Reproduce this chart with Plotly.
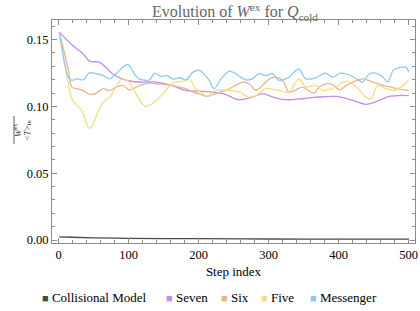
import plotly.graph_objects as go

# ---- data ----
coll_x = [1, 20, 50, 100, 150, 200, 300, 400, 500]
coll_y = [0.0024, 0.0021, 0.0017, 0.0013, 0.0011, 0.0010, 0.0008, 0.0007, 0.0007]

seven_x = [1, 20, 35, 44, 58, 67, 77, 91, 105, 120, 139, 162, 181, 200, 219, 238, 257, 277, 291, 306,
           324, 348, 372, 396, 420, 439, 458, 472, 491, 500]
seven_y = [0.1555, 0.1455, 0.1393, 0.1338, 0.1331, 0.1294, 0.1244, 0.1206, 0.1186, 0.1182, 0.1182, 0.1157,
           0.1119, 0.1114, 0.1107, 0.1090, 0.1050, 0.1070, 0.1095, 0.1070, 0.1050, 0.1057, 0.1070, 0.1074,
           0.1045, 0.1015, 0.1045, 0.1074, 0.1082, 0.1080]

six_x = [1, 14, 19, 26, 35, 44, 54, 63, 73, 82, 92, 101, 111, 120, 130, 139, 153, 168, 182, 192, 201, 211,
         220, 230, 239, 253, 263, 272, 282, 291, 301, 310, 320, 329, 339, 348, 358, 365, 372, 382, 391, 401,
         411, 420, 434, 449, 463, 478, 492, 500]
six_y = [0.1555, 0.1269, 0.1144, 0.1132, 0.1119, 0.1089, 0.1099, 0.1132, 0.1119, 0.1144, 0.1157, 0.1124,
         0.1144, 0.1164, 0.1174, 0.1169, 0.1162, 0.1149, 0.1132, 0.1107, 0.1094, 0.1074, 0.1089, 0.1107,
         0.1120, 0.1157, 0.1182, 0.1169, 0.1119, 0.1157, 0.1206, 0.1219, 0.1194, 0.1107, 0.1124, 0.1144,
         0.1114, 0.1099, 0.1144, 0.1169, 0.1164, 0.1124, 0.1157, 0.1182, 0.1206, 0.1182, 0.1157, 0.1139,
         0.1124, 0.1119]

five_x = [1, 12, 19, 26, 33, 38, 44, 49, 57, 64, 73, 83, 90, 99, 109, 116, 123, 132, 142, 151, 163, 177,
          187, 196, 206, 213, 220, 230, 243, 258, 272, 282, 296, 315, 329, 343, 353, 367, 377, 391, 411,
          425, 439, 446, 456, 468, 478, 492, 500]
five_y = [0.1555, 0.1219, 0.1057, 0.1007, 0.0970, 0.0896, 0.0833, 0.0866, 0.0970, 0.1032, 0.1069, 0.1157,
          0.1206, 0.1189, 0.1107, 0.1045, 0.1002, 0.1015, 0.1057, 0.1107, 0.1174, 0.1189, 0.1199, 0.1132,
          0.1094, 0.1074, 0.1107, 0.1125, 0.1119, 0.1107, 0.1069, 0.1082, 0.1132, 0.1119, 0.1107, 0.1206,
          0.1144, 0.1157, 0.1119, 0.1132, 0.1189, 0.1144, 0.1069, 0.1057, 0.1157, 0.1132, 0.1119, 0.1157,
          0.1199]

mess_x = [1, 14, 19, 26, 35, 44, 54, 63, 73, 82, 92, 99, 108, 115, 130, 137, 146, 154, 163, 173, 182, 192,
          201, 215, 222, 232, 244, 253, 267, 277, 286, 296, 305, 315, 329, 343, 353, 367, 381, 391, 403,
          417, 429, 434, 444, 453, 463, 470, 478, 487, 496, 500]
mess_y = [0.1555, 0.1219, 0.1194, 0.1206, 0.1199, 0.1251, 0.1244, 0.1231, 0.1206, 0.1244, 0.1294, 0.1313,
          0.1244, 0.1206, 0.1199, 0.1249, 0.1224, 0.1231, 0.1206, 0.1214, 0.1199, 0.1256, 0.1269, 0.1194,
          0.1132, 0.1206, 0.1264, 0.1244, 0.1199, 0.1206, 0.1244, 0.1231, 0.1244, 0.1194, 0.1219, 0.1281,
          0.1206, 0.1214, 0.1249, 0.1219, 0.1249, 0.1231, 0.1194, 0.1181, 0.1244, 0.1249, 0.1219, 0.1181,
          0.1269, 0.1289, 0.1294, 0.1256]

names = ["Collisional Model", "Seven", "Six", "Five", "Messenger"]
colors = ["#4a4a4a", "#c48cee", "#ebb48e", "#f3df88", "#92c8f1"]

x_ticks = [0, 100, 200, 300, 400, 500]
y_ticks = [0.00, 0.05, 0.10, 0.15]
y_tick_labels = ["0.00", "0.05", "0.10", "0.15"]

series = [(coll_x, coll_y), (seven_x, seven_y), (six_x, six_y), (five_x, five_y), (mess_x, mess_y)]

SERIF = "Times New Roman, Liberation Serif, DejaVu Serif, serif"
FRAME = "#8c8c8c"
L, R, T, B = 52, 5, 20, 68
PW = 420 - L - R
PH = 311 - T - B


def px_to_paper_x(px):
    return (px - L) / PW


def py_to_paper_y(py):
    return (311 - B - py) / PH


fig = go.Figure()
for (xs, ys), nm, col in zip(series, names, colors):
    fig.add_trace(go.Scatter(x=xs, y=ys, mode="lines", name=nm, showlegend=False,
                             line=dict(color=col, width=1.3, shape="spline", smoothing=1.0)))

axis_common = dict(showline=True, linecolor=FRAME, linewidth=1, mirror="allticks",
                   ticks="inside", tickcolor=FRAME, ticklen=5, tickwidth=1,
                   showgrid=False, zeroline=False, automargin=False,
                   tickfont=dict(family=SERIF, size=12.5, color="black"))

fig.update_xaxes(range=[-9.5, 509], tickvals=x_ticks,
                 minor=dict(dtick=20, ticks="inside", ticklen=3, tickcolor=FRAME, showgrid=False),
                 title=dict(text="Step index", font=dict(family=SERIF, size=13, color="black"), standoff=5),
                 **axis_common)
fig.update_yaxes(range=[-0.0022, 0.1646], tickvals=y_ticks, ticktext=y_tick_labels,
                 minor=dict(dtick=0.01, ticks="inside", ticklen=3, tickcolor=FRAME, showgrid=False),
                 **axis_common)

# y-axis label as a fraction
fig.add_annotation(xref="paper", yref="paper", x=px_to_paper_x(9), y=py_to_paper_y(130),
                   text="<i>W</i><sup>ex</sup>", textangle=-90, showarrow=False,
                   font=dict(family=SERIF, size=9, color="#333"))
fig.add_annotation(xref="paper", yref="paper", x=px_to_paper_x(19), y=py_to_paper_y(130),
                   text="&lt;<i>T</i>&gt;<sub>in</sub>", textangle=-90, showarrow=False,
                   font=dict(family=SERIF, size=9, color="#333"))
fig.add_shape(type="line", xref="paper", yref="paper",
              x0=px_to_paper_x(14), x1=px_to_paper_x(14), y0=py_to_paper_y(144), y1=py_to_paper_y(116),
              line=dict(color="#333", width=0.8))

# legend drawn as text items with colored squares
legend_px = [40, 164, 219, 259, 308]
for nm, col, lx in zip(names, colors, legend_px):
    fig.add_annotation(xref="paper", yref="paper", x=px_to_paper_x(lx), y=py_to_paper_y(297),
                       xanchor="left", yanchor="middle", showarrow=False,
                       text=f'<span style="color:{col}; font-size:11px">■</span> {nm}',
                       font=dict(family=SERIF, size=13, color="black"))

fig.update_layout(
    width=420, height=311,
    margin=dict(l=L, r=R, t=T, b=B),
    paper_bgcolor="white", plot_bgcolor="white",
    font=dict(family=SERIF),
    title=dict(text="Evolution of <i>W</i><sup>ex</sup> for <i>Q</i><sub>cold</sub>",
               x=235 / 420, xanchor="center", y=0.962, yanchor="middle",
               font=dict(family=SERIF, size=16, color="#666")),
    showlegend=False,
)

fig.write_html("out.html", config={"displayModeBar": False},
               post_script="document.body.style.margin='0';document.body.style.overflow='hidden';")
